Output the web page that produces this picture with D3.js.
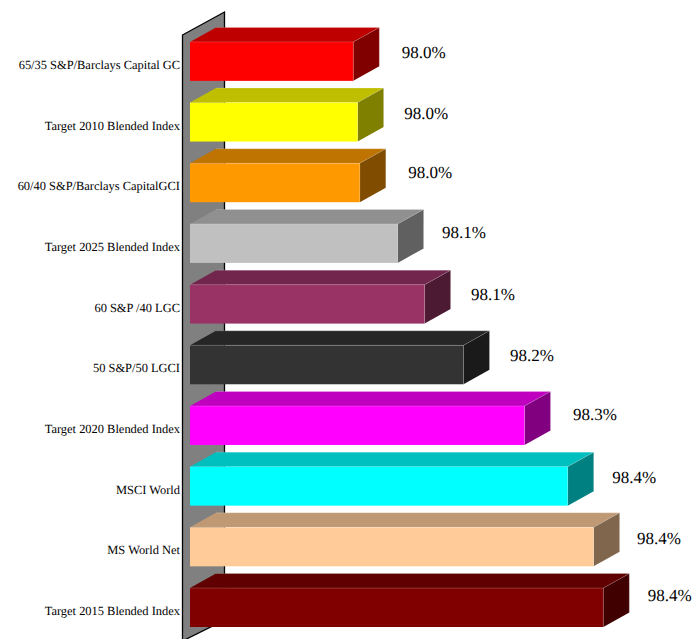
<!DOCTYPE html>
<html><head><meta charset="utf-8">
<script src="https://cdn.jsdelivr.net/npm/d3@7/dist/d3.min.js"></script>
<style>html,body{margin:0;padding:0;background:#fff}svg{display:block}text{text-rendering:geometricPrecision}</style>
</head><body><svg id="c" width="693" height="639"></svg>
<script>
const categories = ["65/35 S&P/Barclays Capital GC","Target 2010 Blended Index","60/40 S&P/Barclays CapitalGCI","Target 2025 Blended Index","60 S&P /40 LGC","50 S&P/50 LGCI","Target 2020 Blended Index","MSCI World","MS World Net","Target 2015 Blended Index"];
const values = [97.983,97.991,97.995,98.065,98.115,98.187,98.300,98.380,98.428,98.446];
const colors = ["#ff0000","#ffff00","#ff9900","#c0c0c0","#993366","#333333","#ff00ff","#00ffff","#ffcc99","#800000"];

// hand placement of the value labels, as in the reference
const labelShiftX = [0,-2,0,-4,-2,-2,0,-4,-5,-4];
const labelShiftY = [-1,-1,-3,-3,-2,-2,-3,-1,-1,-4];

const FONT = "'Liberation Serif','Times New Roman',serif";
const dx = 26, dy = -14.5;
const svg = d3.select("#c");
const x = d3.scaleLinear().domain([98.05, 98.45]).range([389.5, 605.5]);
const y = d3.scaleBand().domain(categories).range([41.9, 627]).paddingInner(0.358).paddingOuter(0);
const shade = (c, k) => { const o = d3.rgb(c); return d3.rgb(o.r*k, o.g*k, o.b*k).formatHex(); };

// back wall
const wx0 = 182.5, wx1 = 224.5, wTop = 35, wBot = 641, wdy = -23, wdyB = -21;
svg.append("path")
  .attr("d", `M${wx0},${wTop}L${wx1},${wTop+wdy}L${wx1},${wBot+wdyB}L${wx0},${wBot}Z`)
  .attr("fill", "#808080").attr("stroke", "#000").attr("stroke-width", 1.3);

// bars
const left = 190;
const g = svg.selectAll("g.bar").data(categories.map((c,i)=>({c,v:values[i],col:colors[i],i}))).join("g").attr("class","bar");
g.append("path") // top
  .attr("d", d => { const t=y(d.c), r=x(d.v); return `M${left},${t}L${left+dx},${t+dy}L${r+dx},${t+dy}L${r},${t}Z`; })
  .attr("fill", d => shade(d.col, 0.75));
g.append("path") // side
  .attr("d", d => { const t=y(d.c), b=t+y.bandwidth(), r=x(d.v); return `M${r},${t}L${r+dx},${t+dy}L${r+dx},${b+dy}L${r},${b}Z`; })
  .attr("fill", d => shade(d.col, 0.5));
g.append("rect")
  .attr("x", left).attr("y", d => y(d.c))
  .attr("width", d => x(d.v)-left).attr("height", y.bandwidth())
  .attr("fill", d => d.col);
// light edges
g.append("path")
  .attr("d", d => { const t=y(d.c), b=t+y.bandwidth(), r=x(d.v);
    return `M${left},${t}L${r},${t}L${r+dx},${t+dy}M${left+dx},${t+dy}L${r+dx},${t+dy}L${r+dx},${b+dy}M${r},${t}L${r},${b}`; })
  .attr("fill", "none").attr("stroke", "#fff").attr("stroke-opacity", 0.22).attr("stroke-width", 0.8);

// value labels
g.append("text")
  .attr("x", d => x(d.v)+dx+22.5+labelShiftX[d.i])
  .attr("y", d => y(d.c)+17.3+labelShiftY[d.i])
  .attr("font-family", FONT).attr("font-size", 17).attr("fill", "#000")
  .text(d => d.v.toFixed(1)+"%");

// category axis
const ax = svg.append("g").attr("transform", "translate(180,3.5)")
  .call(d3.axisLeft(y).tickSize(0).tickPadding(0));
ax.select(".domain").remove();
ax.selectAll("text").attr("font-family", FONT).attr("font-size", 12.45).attr("fill", "#000");
</script></body></html>
